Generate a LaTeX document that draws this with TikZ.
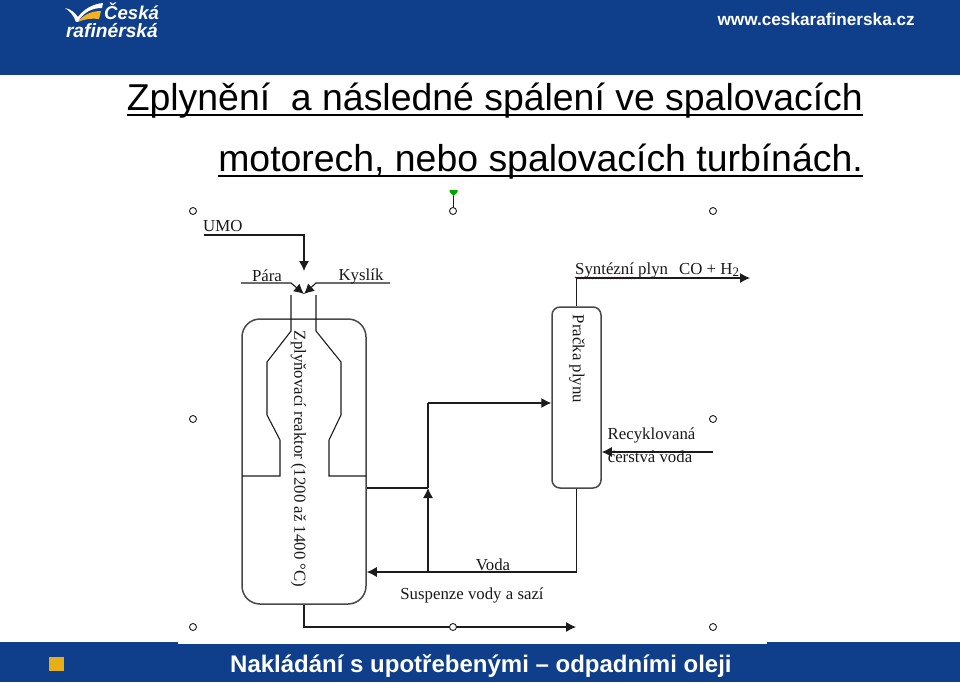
\documentclass[tikz,border=0pt]{standalone}
\usepackage{fontspec}
\usepackage{tikz}
\usetikzlibrary{arrows.meta,decorations.pathmorphing}
\setmainfont{Liberation Sans}
\newfontfamily\serifdiag{Liberation Serif}
\definecolor{bandblue}{HTML}{0F3E8A}
\definecolor{dline}{HTML}{1C1C1C}
\definecolor{logoyellow}{HTML}{F5B21E}
\definecolor{squareyellow}{HTML}{E8AE18}
\tikzset{
  flow/.style={draw=dline,line width=1.1pt,-{Latex[length=10pt,width=10pt]}},
  pipe/.style={draw=dline,line width=1.1pt},
  vessel/.style={draw=dline!80,line width=1.5pt,rectangle,inner sep=0pt},
  handle/.style={circle,draw=dline,fill=white,line width=.9pt,minimum size=7pt,inner sep=0pt},
  lab/.style={font=\serifdiag\fontsize{16.8}{16.8}\selectfont,text=black!90,inner sep=0pt},
  titleline/.style={font=\fontsize{37.4}{37.4}\selectfont,text=black,inner sep=0pt,anchor=base east},
  rule/.style={draw=black,line width=1.6pt},
}
\begin{document}
\begin{tikzpicture}[x=1pt,y=-1pt]
\useasboundingbox (0,0) rectangle (960,682);
\fill[white] (0,0) rectangle (960,682);
% bands
\fill[bandblue] (0,0) rectangle (960,75);
\fill[bandblue] (0,642) rectangle (960,682);
\fill[white] (178,640) rectangle (767,644);
% logo
\fill[white] (65,8) .. controls (71,9) and (75,13) .. (78,17) .. controls (83,10) and (92,4) .. (103,3) -- (102,8) .. controls (91,8) and (83,13) .. (78,22) -- (76,22) .. controls (74,16) and (70,11) .. (65,8) -- cycle;
\fill[logoyellow] (78,22) .. controls (83,15) and (91,11) .. (101,11) -- (99,19) .. controls (92,18) and (84,19) .. (78,22) -- cycle;
\node[font=\bfseries\itshape\fontsize{18.6}{18.6}\selectfont,text=white,inner sep=0pt,anchor=base west] (logoa) at (104,20) {Česká};
\node[font=\bfseries\itshape\fontsize{19.2}{19.2}\selectfont,text=white,inner sep=0pt,anchor=base east] (logob) at (158,38) {rafinérská};
\node[font=\bfseries\fontsize{17.2}{17.2}\selectfont,text=white,inner sep=0pt,anchor=base east] (web) at (915,26) {www.ceskarafinerska.cz};
% footer
\fill[squareyellow] (49,657) rectangle (64,671);
\node[font=\bfseries\fontsize{24}{24}\selectfont,text=white,inner sep=0pt,anchor=base west] (foot) at (230,672.5) {Nakládání s upotřebenými – odpadními oleji};
% title
\node[titleline] (t1) at (863,110.5) {Zplynění\ \ a následné spálení ve spalovacích};
\node[titleline] (t2) at (863,171) {motorech, nebo spalovacích turbínách.};
\draw[rule] (t1.base west)+(0,4.5) -- ([yshift=-4.5pt]t1.base east);
\draw[rule] (t2.base west)+(0,5) -- ([yshift=-5pt]t2.base east);
% handles
\foreach \n/\x/\y in {ha/193/211,hb/453/211,hc/713/211,hd/193/419,he/713/419,hf/193/627,hg/713/627}
  \node[handle] (\n) at (\x,\y) {};
\coordinate (grn) at (453,192);
\draw[dline,line width=.9pt] (grn) -- (hb);
\fill[green!65!black] (449.5,190) rectangle (457.5,192) (449.5,192) -- (457.5,192) -- (453.5,196) -- cycle;
% vessels
\node[vessel,rounded corners=18pt,minimum width=124pt,minimum height=285pt] (reactor) at (304,461.5) {};
\node[vessel,rounded corners=8pt,minimum width=49pt,minimum height=181pt] (scrub) at (576.5,397.5) {};
% inner
\coordinate (n1) at (291,295);
\coordinate (n2) at (316,295);
\draw[pipe] (n1) -- (291,331) -- (267,362) -- (267,415) -- (280,440) -- (280,476) -- (242,476);
\draw[pipe] (n2) -- (316,331) -- (341,362) -- (341,415) -- (329,440) -- (329,476) -- (366,476);
% labels
\node[lab,anchor=west] (umo) at (203,226.5) {UMO};
\node[lab] (para) at (267,276) {Pára};
\node[lab] (kys) at (361,276) {Kyslík};
\node[lab,rotate=-90] (ztext) at (298.5,459) {Zplyňovací reaktor (1200 až 1400 °C)};
\node[lab,rotate=-90] (ptext) at (577,359) {Pračka plynu};
\node[lab,anchor=west] (syn) at (575,270) {Syntézní plyn};
\node[lab,anchor=west] (co) at (679,270) {CO + H\raisebox{-2pt}{\fontsize{13}{13}\selectfont 2}};
\draw[red!75!black,line width=.8pt,decorate,decoration={zigzag,amplitude=.8pt,segment length=3pt}] (575,278) -- (635,278);
\node[lab] (rec) at (651.5,435.5) {Recyklovaná};
\node[lab] (cer) at (650,456.5) {čerstvá voda};
\node[lab] (voda) at (493,564.5) {Voda};
\node[lab] (susp) at (472,595) {Suspenze vody a sazí};
% connectors
\coordinate (u0) at (204,235);
\coordinate (u1) at (304,271);
\draw[flow] (u0) -| (u1);
\coordinate (p0) at (241,283);
\coordinate (k0) at (390,283);
\coordinate (mid) at (304,294);
\draw[flow] (p0) -- (291,283) -- (mid);
\draw[flow] (k0) -- (316,283) -- (mid);
\draw[pipe] (reactor.east |- 0,488) -- (428,488);
\coordinate (j1) at (428,572);
\coordinate (j2) at (428,403);
\draw[flow] (j1) -- (428,488);
\draw[pipe] (428,488) -- (j2);
\draw[flow] (j2) -- (scrub.west |- j2);
\draw[flow] (scrub.south) |- (reactor.east |- j1);
\coordinate (s1) at (750,278);
\draw[flow] (scrub.north) |- (s1);
\coordinate (r0) at (713,452);
\draw[flow] (r0) -- (scrub.east |- r0);
\coordinate (b1) at (576,627);
\draw[flow] (reactor.south) |- (b1);
\node[handle] (hmid) at (453,627) {};
\end{tikzpicture}
\end{document}
